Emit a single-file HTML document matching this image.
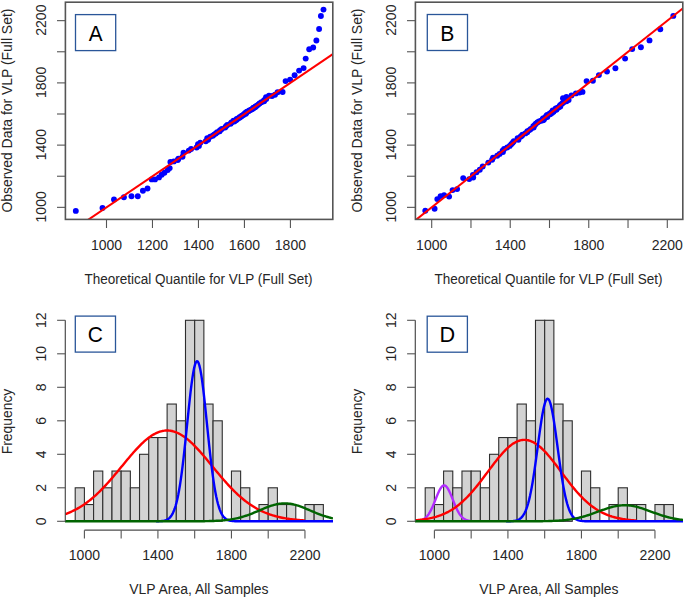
<!DOCTYPE html>
<html><head><meta charset="utf-8"><style>html,body{margin:0;padding:0;background:#fff;width:685px;height:598px;overflow:hidden}svg{display:block}text{font-family:"Liberation Sans",sans-serif}</style></head>
<body>
<svg width="685" height="598" viewBox="0 0 685 598" font-family="'Liberation Sans', sans-serif" fill="#262626">
<rect width="685" height="598" fill="#fff"/>
<clipPath id="clipA"><rect x="65.4" y="2.2" width="267.4" height="217.20000000000002"/></clipPath>
<g fill="#0000ff" clip-path="url(#clipA)">
<circle cx="75.8" cy="210.9" r="2.95"/>
<circle cx="102.5" cy="208.0" r="2.95"/>
<circle cx="114.0" cy="199.4" r="2.95"/>
<circle cx="123.9" cy="197.2" r="2.95"/>
<circle cx="131.5" cy="196.3" r="2.95"/>
<circle cx="137.8" cy="196.3" r="2.95"/>
<circle cx="142.9" cy="190.7" r="2.95"/>
<circle cx="147.5" cy="188.5" r="2.95"/>
<circle cx="151.7" cy="179.4" r="2.95"/>
<circle cx="155.0" cy="179.4" r="2.95"/>
<circle cx="159.0" cy="177.4" r="2.95"/>
<circle cx="161.7" cy="174.7" r="2.95"/>
<circle cx="164.4" cy="172.7" r="2.95"/>
<circle cx="167.7" cy="170.1" r="2.95"/>
<circle cx="169.7" cy="168.1" r="2.95"/>
<circle cx="170.4" cy="162.0" r="2.95"/>
<circle cx="173.8" cy="161.4" r="2.95"/>
<circle cx="177.8" cy="160.0" r="2.95"/>
<circle cx="178.4" cy="158.7" r="2.95"/>
<circle cx="182.5" cy="156.7" r="2.95"/>
<circle cx="183.5" cy="152.7" r="2.95"/>
<circle cx="188.8" cy="150.6" r="2.95"/>
<circle cx="191.1" cy="149.0" r="2.95"/>
<circle cx="196.6" cy="147.5" r="2.95"/>
<circle cx="198.9" cy="145.9" r="2.95"/>
<circle cx="198.0" cy="144.3" r="2.95"/>
<circle cx="200.3" cy="142.8" r="2.95"/>
<circle cx="205.8" cy="141.2" r="2.95"/>
<circle cx="208.1" cy="139.7" r="2.95"/>
<circle cx="207.2" cy="138.1" r="2.95"/>
<circle cx="210.2" cy="136.8" r="2.95"/>
<circle cx="212.8" cy="135.7" r="2.95"/>
<circle cx="214.1" cy="134.6" r="2.95"/>
<circle cx="215.8" cy="133.4" r="2.95"/>
<circle cx="217.2" cy="132.3" r="2.95"/>
<circle cx="219.7" cy="131.2" r="2.95"/>
<circle cx="220.1" cy="130.1" r="2.95"/>
<circle cx="221.8" cy="128.9" r="2.95"/>
<circle cx="225.1" cy="127.6" r="2.95"/>
<circle cx="226.0" cy="126.3" r="2.95"/>
<circle cx="227.3" cy="125.0" r="2.95"/>
<circle cx="230.6" cy="123.7" r="2.95"/>
<circle cx="231.4" cy="122.4" r="2.95"/>
<circle cx="234.3" cy="121.5" r="2.95"/>
<circle cx="233.5" cy="120.8" r="2.95"/>
<circle cx="235.9" cy="120.2" r="2.95"/>
<circle cx="236.9" cy="119.5" r="2.95"/>
<circle cx="236.8" cy="118.9" r="2.95"/>
<circle cx="238.4" cy="118.2" r="2.95"/>
<circle cx="239.9" cy="117.6" r="2.95"/>
<circle cx="239.9" cy="116.9" r="2.95"/>
<circle cx="241.6" cy="116.3" r="2.95"/>
<circle cx="241.9" cy="115.6" r="2.95"/>
<circle cx="243.4" cy="115.0" r="2.95"/>
<circle cx="244.1" cy="114.3" r="2.95"/>
<circle cx="245.8" cy="113.7" r="2.95"/>
<circle cx="245.2" cy="113.0" r="2.95"/>
<circle cx="246.6" cy="112.4" r="2.95"/>
<circle cx="246.9" cy="111.7" r="2.95"/>
<circle cx="248.7" cy="111.1" r="2.95"/>
<circle cx="249.3" cy="110.4" r="2.95"/>
<circle cx="251.0" cy="109.8" r="2.95"/>
<circle cx="252.1" cy="109.1" r="2.95"/>
<circle cx="253.2" cy="108.5" r="2.95"/>
<circle cx="253.4" cy="107.8" r="2.95"/>
<circle cx="255.1" cy="107.2" r="2.95"/>
<circle cx="255.6" cy="106.5" r="2.95"/>
<circle cx="256.8" cy="105.7" r="2.95"/>
<circle cx="258.2" cy="104.6" r="2.95"/>
<circle cx="259.5" cy="103.4" r="2.95"/>
<circle cx="261.4" cy="102.3" r="2.95"/>
<circle cx="264.1" cy="101.2" r="2.95"/>
<circle cx="264.1" cy="100.1" r="2.95"/>
<circle cx="266.2" cy="99.0" r="2.95"/>
<circle cx="266.0" cy="97.2" r="2.95"/>
<circle cx="269.0" cy="95.7" r="2.95"/>
<circle cx="272.0" cy="96.0" r="2.95"/>
<circle cx="275.0" cy="94.7" r="2.95"/>
<circle cx="277.6" cy="92.2" r="2.95"/>
<circle cx="282.6" cy="92.0" r="2.95"/>
<circle cx="285.6" cy="81.1" r="2.95"/>
<circle cx="290.1" cy="79.6" r="2.95"/>
<circle cx="294.6" cy="75.3" r="2.95"/>
<circle cx="299.1" cy="70.6" r="2.95"/>
<circle cx="303.6" cy="68.1" r="2.95"/>
<circle cx="305.7" cy="58.6" r="2.95"/>
<circle cx="309.2" cy="49.2" r="2.95"/>
<circle cx="313.2" cy="47.5" r="2.95"/>
<circle cx="316.4" cy="40.5" r="2.95"/>
<circle cx="319.1" cy="29.0" r="2.95"/>
<circle cx="320.9" cy="16.0" r="2.95"/>
<circle cx="323.5" cy="9.6" r="2.95"/>
</g>
<line x1="60.52" y1="238.47" x2="428.36" y2="-10.46" stroke="#ff0000" stroke-width="2.0" clip-path="url(#clipA)"/>
<rect x="65.4" y="2.2" width="267.4" height="217.20000000000002" fill="none" stroke="#555" stroke-width="1.6"/>
<line x1="57.0" y1="207.35" x2="65.4" y2="207.35" stroke="#555" stroke-width="1.1"/>
<line x1="57.0" y1="176.23" x2="65.4" y2="176.23" stroke="#555" stroke-width="1.1"/>
<line x1="57.0" y1="145.12" x2="65.4" y2="145.12" stroke="#555" stroke-width="1.1"/>
<line x1="57.0" y1="114.00" x2="65.4" y2="114.00" stroke="#555" stroke-width="1.1"/>
<line x1="57.0" y1="82.89" x2="65.4" y2="82.89" stroke="#555" stroke-width="1.1"/>
<line x1="57.0" y1="51.77" x2="65.4" y2="51.77" stroke="#555" stroke-width="1.1"/>
<line x1="57.0" y1="20.65" x2="65.4" y2="20.65" stroke="#555" stroke-width="1.1"/>
<text transform="translate(46.3,206.85) rotate(-90)" text-anchor="middle" font-size="14">1000</text>
<text transform="translate(46.3,144.62) rotate(-90)" text-anchor="middle" font-size="14">1400</text>
<text transform="translate(46.3,82.39) rotate(-90)" text-anchor="middle" font-size="14">1800</text>
<text transform="translate(46.3,20.15) rotate(-90)" text-anchor="middle" font-size="14">2200</text>
<line x1="106.50" y1="219.4" x2="106.50" y2="228.0" stroke="#555" stroke-width="1.1"/>
<line x1="152.48" y1="219.4" x2="152.48" y2="228.0" stroke="#555" stroke-width="1.1"/>
<line x1="198.46" y1="219.4" x2="198.46" y2="228.0" stroke="#555" stroke-width="1.1"/>
<line x1="244.44" y1="219.4" x2="244.44" y2="228.0" stroke="#555" stroke-width="1.1"/>
<line x1="290.42" y1="219.4" x2="290.42" y2="228.0" stroke="#555" stroke-width="1.1"/>
<text x="106.50" y="249.8" text-anchor="middle" font-size="14">1000</text>
<text x="152.48" y="249.8" text-anchor="middle" font-size="14">1200</text>
<text x="198.46" y="249.8" text-anchor="middle" font-size="14">1400</text>
<text x="244.44" y="249.8" text-anchor="middle" font-size="14">1600</text>
<text x="290.42" y="249.8" text-anchor="middle" font-size="14">1800</text>
<text x="84.5" y="284" font-size="14" textLength="228" lengthAdjust="spacingAndGlyphs">Theoretical Quantile for VLP (Full Set)</text>
<text transform="translate(12.3,212.6) rotate(-90)" font-size="14" textLength="204" lengthAdjust="spacingAndGlyphs">Observed Data for VLP (Full Set)</text>
<clipPath id="clipB"><rect x="415.4" y="2.2" width="267.4" height="217.20000000000002"/></clipPath>
<g fill="#0000ff" clip-path="url(#clipB)">
<circle cx="425.3" cy="210.7" r="2.95"/>
<circle cx="434.6" cy="208.7" r="2.95"/>
<circle cx="437.3" cy="199.1" r="2.95"/>
<circle cx="440.6" cy="196.1" r="2.95"/>
<circle cx="444.1" cy="195.1" r="2.95"/>
<circle cx="449.1" cy="196.6" r="2.95"/>
<circle cx="452.6" cy="190.1" r="2.95"/>
<circle cx="457.1" cy="189.1" r="2.95"/>
<circle cx="463.2" cy="178.1" r="2.95"/>
<circle cx="469.2" cy="179.1" r="2.95"/>
<circle cx="473.2" cy="177.6" r="2.95"/>
<circle cx="472.9" cy="174.9" r="2.95"/>
<circle cx="476.5" cy="172.3" r="2.95"/>
<circle cx="479.8" cy="169.8" r="2.95"/>
<circle cx="482.7" cy="166.5" r="2.95"/>
<circle cx="488.3" cy="162.6" r="2.95"/>
<circle cx="492.1" cy="159.7" r="2.95"/>
<circle cx="493.0" cy="157.8" r="2.95"/>
<circle cx="497.2" cy="155.8" r="2.95"/>
<circle cx="499.6" cy="153.9" r="2.95"/>
<circle cx="502.9" cy="152.1" r="2.95"/>
<circle cx="502.6" cy="150.6" r="2.95"/>
<circle cx="504.1" cy="149.0" r="2.95"/>
<circle cx="507.2" cy="147.5" r="2.95"/>
<circle cx="509.7" cy="145.9" r="2.95"/>
<circle cx="511.2" cy="144.3" r="2.95"/>
<circle cx="512.7" cy="142.8" r="2.95"/>
<circle cx="513.8" cy="141.2" r="2.95"/>
<circle cx="518.4" cy="139.7" r="2.95"/>
<circle cx="517.6" cy="138.1" r="2.95"/>
<circle cx="520.5" cy="136.8" r="2.95"/>
<circle cx="521.9" cy="135.7" r="2.95"/>
<circle cx="522.4" cy="134.6" r="2.95"/>
<circle cx="525.3" cy="133.4" r="2.95"/>
<circle cx="527.2" cy="132.3" r="2.95"/>
<circle cx="527.4" cy="131.2" r="2.95"/>
<circle cx="529.4" cy="130.1" r="2.95"/>
<circle cx="530.8" cy="128.9" r="2.95"/>
<circle cx="533.6" cy="127.6" r="2.95"/>
<circle cx="533.3" cy="126.3" r="2.95"/>
<circle cx="534.8" cy="125.0" r="2.95"/>
<circle cx="535.8" cy="123.7" r="2.95"/>
<circle cx="537.3" cy="122.4" r="2.95"/>
<circle cx="538.9" cy="121.5" r="2.95"/>
<circle cx="541.0" cy="120.8" r="2.95"/>
<circle cx="543.1" cy="120.2" r="2.95"/>
<circle cx="544.0" cy="119.5" r="2.95"/>
<circle cx="542.7" cy="118.9" r="2.95"/>
<circle cx="543.4" cy="118.2" r="2.95"/>
<circle cx="545.6" cy="117.6" r="2.95"/>
<circle cx="547.3" cy="116.9" r="2.95"/>
<circle cx="546.1" cy="116.3" r="2.95"/>
<circle cx="547.0" cy="115.6" r="2.95"/>
<circle cx="547.1" cy="115.0" r="2.95"/>
<circle cx="550.2" cy="114.3" r="2.95"/>
<circle cx="549.5" cy="113.7" r="2.95"/>
<circle cx="551.9" cy="113.0" r="2.95"/>
<circle cx="551.2" cy="112.4" r="2.95"/>
<circle cx="553.5" cy="111.7" r="2.95"/>
<circle cx="553.7" cy="111.1" r="2.95"/>
<circle cx="552.7" cy="110.4" r="2.95"/>
<circle cx="556.3" cy="109.8" r="2.95"/>
<circle cx="556.6" cy="109.1" r="2.95"/>
<circle cx="555.7" cy="108.5" r="2.95"/>
<circle cx="557.7" cy="107.8" r="2.95"/>
<circle cx="558.8" cy="107.2" r="2.95"/>
<circle cx="560.3" cy="106.5" r="2.95"/>
<circle cx="559.8" cy="105.7" r="2.95"/>
<circle cx="560.7" cy="104.6" r="2.95"/>
<circle cx="562.2" cy="103.4" r="2.95"/>
<circle cx="563.7" cy="102.3" r="2.95"/>
<circle cx="566.5" cy="101.2" r="2.95"/>
<circle cx="568.6" cy="100.1" r="2.95"/>
<circle cx="567.8" cy="99.0" r="2.95"/>
<circle cx="563.0" cy="98.3" r="2.95"/>
<circle cx="566.4" cy="97.0" r="2.95"/>
<circle cx="571.5" cy="95.5" r="2.95"/>
<circle cx="575.9" cy="93.4" r="2.95"/>
<circle cx="579.6" cy="92.6" r="2.95"/>
<circle cx="582.5" cy="91.9" r="2.95"/>
<circle cx="586.6" cy="81.1" r="2.95"/>
<circle cx="592.9" cy="80.8" r="2.95"/>
<circle cx="598.9" cy="75.1" r="2.95"/>
<circle cx="607.0" cy="71.6" r="2.95"/>
<circle cx="615.4" cy="68.2" r="2.95"/>
<circle cx="625.1" cy="58.6" r="2.95"/>
<circle cx="632.2" cy="49.1" r="2.95"/>
<circle cx="640.9" cy="47.2" r="2.95"/>
<circle cx="649.5" cy="40.4" r="2.95"/>
<circle cx="660.3" cy="29.2" r="2.95"/>
<circle cx="673.3" cy="15.9" r="2.95"/>
</g>
<line x1="392.43" y1="238.47" x2="706.56" y2="-10.46" stroke="#ff0000" stroke-width="2.0" clip-path="url(#clipB)"/>
<rect x="415.4" y="2.2" width="267.4" height="217.20000000000002" fill="none" stroke="#555" stroke-width="1.6"/>
<line x1="407.0" y1="207.35" x2="415.4" y2="207.35" stroke="#555" stroke-width="1.1"/>
<line x1="407.0" y1="176.23" x2="415.4" y2="176.23" stroke="#555" stroke-width="1.1"/>
<line x1="407.0" y1="145.12" x2="415.4" y2="145.12" stroke="#555" stroke-width="1.1"/>
<line x1="407.0" y1="114.00" x2="415.4" y2="114.00" stroke="#555" stroke-width="1.1"/>
<line x1="407.0" y1="82.89" x2="415.4" y2="82.89" stroke="#555" stroke-width="1.1"/>
<line x1="407.0" y1="51.77" x2="415.4" y2="51.77" stroke="#555" stroke-width="1.1"/>
<line x1="407.0" y1="20.65" x2="415.4" y2="20.65" stroke="#555" stroke-width="1.1"/>
<text transform="translate(396.3,206.85) rotate(-90)" text-anchor="middle" font-size="14">1000</text>
<text transform="translate(396.3,144.62) rotate(-90)" text-anchor="middle" font-size="14">1400</text>
<text transform="translate(396.3,82.39) rotate(-90)" text-anchor="middle" font-size="14">1800</text>
<text transform="translate(396.3,20.15) rotate(-90)" text-anchor="middle" font-size="14">2200</text>
<line x1="431.70" y1="219.4" x2="431.70" y2="228.0" stroke="#555" stroke-width="1.1"/>
<line x1="470.97" y1="219.4" x2="470.97" y2="228.0" stroke="#555" stroke-width="1.1"/>
<line x1="510.23" y1="219.4" x2="510.23" y2="228.0" stroke="#555" stroke-width="1.1"/>
<line x1="549.50" y1="219.4" x2="549.50" y2="228.0" stroke="#555" stroke-width="1.1"/>
<line x1="588.76" y1="219.4" x2="588.76" y2="228.0" stroke="#555" stroke-width="1.1"/>
<line x1="628.03" y1="219.4" x2="628.03" y2="228.0" stroke="#555" stroke-width="1.1"/>
<line x1="667.30" y1="219.4" x2="667.30" y2="228.0" stroke="#555" stroke-width="1.1"/>
<text x="431.70" y="249.8" text-anchor="middle" font-size="14">1000</text>
<text x="510.23" y="249.8" text-anchor="middle" font-size="14">1400</text>
<text x="588.76" y="249.8" text-anchor="middle" font-size="14">1800</text>
<text x="667.30" y="249.8" text-anchor="middle" font-size="14">2200</text>
<text x="434.5" y="284" font-size="14" textLength="228" lengthAdjust="spacingAndGlyphs">Theoretical Quantile for VLP (Full Set)</text>
<text transform="translate(362.3,212.6) rotate(-90)" font-size="14" textLength="204" lengthAdjust="spacingAndGlyphs">Observed Data for VLP (Full Set)</text>
<clipPath id="hclip0"><rect x="65.0" y="300" width="268.0" height="229.29999999999995"/></clipPath>
<g fill="#d3d3d3" stroke="#2e2e2e" stroke-width="1.1">
<rect x="75.21" y="487.80" width="9.19" height="33.50"/>
<rect x="84.40" y="504.55" width="9.19" height="16.75"/>
<rect x="93.59" y="471.05" width="9.19" height="50.25"/>
<rect x="102.78" y="487.80" width="9.19" height="33.50"/>
<rect x="111.97" y="471.05" width="9.19" height="50.25"/>
<rect x="121.16" y="471.05" width="9.19" height="50.25"/>
<rect x="130.35" y="487.80" width="9.19" height="33.50"/>
<rect x="139.54" y="454.30" width="9.19" height="67.00"/>
<rect x="148.73" y="437.55" width="9.19" height="83.75"/>
<rect x="157.92" y="437.55" width="9.19" height="83.75"/>
<rect x="167.11" y="404.05" width="9.19" height="117.25"/>
<rect x="176.30" y="420.80" width="9.19" height="100.50"/>
<rect x="185.49" y="320.30" width="9.19" height="201.00"/>
<rect x="194.68" y="320.30" width="9.19" height="201.00"/>
<rect x="203.87" y="404.05" width="9.19" height="117.25"/>
<rect x="213.06" y="420.80" width="9.19" height="100.50"/>
<rect x="231.44" y="471.05" width="9.19" height="50.25"/>
<rect x="240.63" y="487.80" width="9.19" height="33.50"/>
<rect x="259.01" y="504.55" width="9.19" height="16.75"/>
<rect x="268.20" y="487.80" width="9.19" height="33.50"/>
<rect x="277.39" y="504.55" width="9.19" height="16.75"/>
<rect x="286.58" y="504.55" width="9.19" height="16.75"/>
<rect x="304.96" y="504.55" width="9.19" height="16.75"/>
<rect x="314.15" y="504.55" width="9.19" height="16.75"/>
</g>
<polyline points="65.00,514.21 66.20,513.78 67.40,513.32 68.60,512.84 69.80,512.34 71.00,511.82 72.20,511.27 73.40,510.70 74.60,510.11 75.80,509.49 77.00,508.84 78.20,508.17 79.40,507.47 80.60,506.74 81.80,505.99 83.00,505.21 84.20,504.40 85.40,503.57 86.60,502.70 87.80,501.81 89.00,500.89 90.20,499.94 91.40,498.96 92.60,497.95 93.80,496.92 95.00,495.85 96.19,494.76 97.39,493.64 98.59,492.50 99.79,491.33 100.99,490.13 102.19,488.91 103.39,487.66 104.59,486.40 105.79,485.10 106.99,483.79 108.19,482.46 109.39,481.10 110.59,479.73 111.79,478.35 112.99,476.95 114.19,475.53 115.39,474.10 116.59,472.67 117.79,471.22 118.99,469.77 120.19,468.31 121.39,466.85 122.59,465.39 123.79,463.93 124.99,462.47 126.19,461.02 127.39,459.58 128.59,458.15 129.79,456.72 130.99,455.32 132.19,453.93 133.39,452.56 134.59,451.21 135.79,449.88 136.99,448.58 138.19,447.31 139.39,446.07 140.59,444.86 141.79,443.69 142.99,442.56 144.19,441.46 145.39,440.41 146.59,439.40 147.79,438.44 148.99,437.52 150.19,436.66 151.39,435.84 152.59,435.08 153.79,434.37 154.99,433.72 156.18,433.13 157.38,432.59 158.58,432.11 159.78,431.70 160.98,431.34 162.18,431.05 163.38,430.82 164.58,430.66 165.78,430.55 166.98,430.52 168.18,430.54 169.38,430.63 170.58,430.78 171.78,431.00 172.98,431.28 174.18,431.62 175.38,432.02 176.58,432.49 177.78,433.01 178.98,433.59 180.18,434.23 181.38,434.93 182.58,435.68 183.78,436.48 184.98,437.34 186.18,438.24 187.38,439.19 188.58,440.19 189.78,441.24 190.98,442.32 192.18,443.45 193.38,444.61 194.58,445.81 195.78,447.05 196.98,448.31 198.18,449.60 199.38,450.92 200.58,452.27 201.78,453.64 202.98,455.02 204.18,456.42 205.38,457.84 206.58,459.27 207.78,460.72 208.98,462.17 210.18,463.62 211.38,465.08 212.58,466.54 213.78,468.00 214.97,469.46 216.17,470.91 217.37,472.36 218.57,473.80 219.77,475.23 220.97,476.65 222.17,478.05 223.37,479.44 224.57,480.82 225.77,482.17 226.97,483.51 228.17,484.83 229.37,486.12 230.57,487.40 231.77,488.65 232.97,489.88 234.17,491.08 235.37,492.25 236.57,493.40 237.77,494.53 238.97,495.63 240.17,496.69 241.37,497.74 242.57,498.75 243.77,499.73 244.97,500.69 246.17,501.62 247.37,502.52 248.57,503.39 249.77,504.23 250.97,505.04 252.17,505.83 253.37,506.59 254.57,507.32 255.77,508.02 256.97,508.70 258.17,509.35 259.37,509.98 260.57,510.58 261.77,511.15 262.97,511.71 264.17,512.23 265.37,512.74 266.57,513.22 267.77,513.68 268.97,514.12 270.17,514.54 271.37,514.94 272.57,515.32 273.77,515.68 274.97,516.02 276.16,516.35 277.36,516.66 278.56,516.95 279.76,517.23 280.96,517.49 282.16,517.74 283.36,517.97 284.56,518.19 285.76,518.40 286.96,518.59 288.16,518.78 289.36,518.95 290.56,519.12 291.76,519.27 292.96,519.41 294.16,519.55 295.36,519.67 296.56,519.79 297.76,519.90 298.96,520.01 300.16,520.10 301.36,520.19 302.56,520.28 303.76,520.36 304.96,520.43" fill="none" stroke="#ff0000" stroke-width="2.4" stroke-linejoin="round" clip-path="url(#hclip0)"/>
<polyline points="156.08,521.27 156.97,521.25 157.85,521.23 158.74,521.21 159.62,521.17 160.50,521.12 161.39,521.05 162.27,520.96 163.16,520.83 164.04,520.67 164.93,520.45 165.81,520.18 166.70,519.82 167.58,519.36 168.47,518.78 169.35,518.06 170.24,517.16 171.12,516.05 172.00,514.70 172.89,513.07 173.77,511.11 174.66,508.79 175.54,506.06 176.43,502.88 177.31,499.22 178.20,495.04 179.08,490.31 179.97,485.02 180.85,479.17 181.74,472.75 182.62,465.81 183.50,458.37 184.39,450.50 185.27,442.28 186.16,433.80 187.04,425.17 187.93,416.53 188.81,408.02 189.70,399.78 190.58,391.98 191.47,384.76 192.35,378.29 193.23,372.69 194.12,368.09 195.00,364.60 195.89,362.30 196.77,361.24 197.66,361.45 198.54,362.92 199.43,365.62 200.31,369.49 201.20,374.43 202.08,380.33 202.97,387.07 203.85,394.50 204.73,402.46 205.62,410.80 206.50,419.38 207.39,428.03 208.27,436.62 209.16,445.03 210.04,453.14 210.93,460.88 211.81,468.16 212.70,474.93 213.58,481.16 214.46,486.83 215.35,491.93 216.23,496.48 217.12,500.48 218.00,503.98 218.89,507.01 219.77,509.60 220.66,511.79 221.54,513.64 222.43,515.17 223.31,516.44 224.20,517.48 225.08,518.31 225.96,518.99 226.85,519.52 227.73,519.95 228.62,520.28 229.50,520.53 230.39,520.73 231.27,520.88 232.16,520.99 233.04,521.08 233.93,521.14 234.81,521.18 235.70,521.22 236.58,521.24 237.46,521.26 238.35,521.27 239.23,521.28 240.12,521.29 241.00,521.29 241.89,521.29 242.77,521.30 243.66,521.30 244.54,521.30 245.43,521.30 246.31,521.30 247.19,521.30 248.08,521.30 248.96,521.30 249.85,521.30 250.73,521.30 251.62,521.30 252.50,521.30 253.39,521.30 254.27,521.30 255.16,521.30 256.04,521.30 256.93,521.30 257.81,521.30 258.69,521.30 259.58,521.30 260.46,521.30 261.35,521.30 262.23,521.30 263.12,521.30 264.00,521.30 264.89,521.30 265.77,521.30 266.66,521.30 267.54,521.30 268.42,521.30 269.31,521.30 270.19,521.30 271.08,521.30 271.96,521.30 272.85,521.30 273.73,521.30 274.62,521.30 275.50,521.30 276.39,521.30 277.27,521.30 278.16,521.30 279.04,521.30 279.92,521.30 280.81,521.30 281.69,521.30 282.58,521.30 283.46,521.30 284.35,521.30 285.23,521.30 286.12,521.30 287.00,521.30 287.89,521.30 288.77,521.30 289.66,521.30 290.54,521.30 291.42,521.30 292.31,521.30 293.19,521.30 294.08,521.30 294.96,521.30 295.85,521.30 296.73,521.30 297.62,521.30 298.50,521.30 299.39,521.30 300.27,521.30 301.15,521.30 302.04,521.30 302.92,521.30 303.81,521.30 304.69,521.30 305.58,521.30 306.46,521.30 307.35,521.30 308.23,521.30 309.12,521.30 310.00,521.30 310.89,521.30 311.77,521.30 312.65,521.30 313.54,521.30 314.42,521.30 315.31,521.30 316.19,521.30 317.08,521.30 317.96,521.30 318.85,521.30 319.73,521.30 320.62,521.30 321.50,521.30 322.38,521.30 323.27,521.30 324.15,521.30 325.04,521.30 325.92,521.30 326.81,521.30 327.69,521.30 328.58,521.30 329.46,521.30 330.35,521.30 331.23,521.30 332.12,521.30 333.00,521.30" fill="none" stroke="#0000ff" stroke-width="2.4" stroke-linejoin="round" clip-path="url(#hclip0)"/>
<polyline points="65.00,521.30 66.34,521.30 67.68,521.30 69.02,521.30 70.36,521.30 71.70,521.30 73.04,521.30 74.38,521.30 75.72,521.30 77.06,521.30 78.40,521.30 79.74,521.30 81.08,521.30 82.42,521.30 83.76,521.30 85.10,521.30 86.44,521.30 87.78,521.30 89.12,521.30 90.46,521.30 91.80,521.30 93.14,521.30 94.48,521.30 95.82,521.30 97.16,521.30 98.50,521.30 99.84,521.30 101.18,521.30 102.52,521.30 103.86,521.30 105.20,521.30 106.54,521.30 107.88,521.30 109.22,521.30 110.56,521.30 111.90,521.30 113.24,521.30 114.58,521.30 115.92,521.30 117.26,521.30 118.60,521.30 119.94,521.30 121.28,521.30 122.62,521.30 123.96,521.30 125.30,521.30 126.64,521.30 127.98,521.30 129.32,521.30 130.66,521.30 132.00,521.30 133.34,521.30 134.68,521.30 136.02,521.30 137.36,521.30 138.70,521.30 140.04,521.30 141.38,521.30 142.72,521.30 144.06,521.30 145.40,521.30 146.74,521.30 148.08,521.30 149.42,521.30 150.76,521.30 152.10,521.30 153.44,521.30 154.78,521.30 156.12,521.30 157.46,521.30 158.80,521.30 160.14,521.30 161.48,521.30 162.82,521.30 164.16,521.30 165.50,521.30 166.84,521.30 168.18,521.30 169.52,521.30 170.86,521.30 172.20,521.30 173.54,521.30 174.88,521.30 176.22,521.30 177.56,521.30 178.90,521.30 180.24,521.30 181.58,521.30 182.92,521.29 184.26,521.29 185.60,521.29 186.94,521.29 188.28,521.29 189.62,521.28 190.96,521.28 192.30,521.28 193.64,521.27 194.98,521.27 196.32,521.26 197.66,521.25 199.00,521.24 200.34,521.23 201.68,521.22 203.02,521.20 204.36,521.18 205.70,521.16 207.04,521.14 208.38,521.11 209.72,521.07 211.06,521.04 212.40,520.99 213.74,520.94 215.08,520.89 216.42,520.82 217.76,520.75 219.10,520.67 220.44,520.58 221.78,520.48 223.12,520.36 224.46,520.24 225.80,520.10 227.14,519.94 228.48,519.77 229.82,519.58 231.16,519.38 232.50,519.15 233.84,518.91 235.18,518.64 236.52,518.36 237.86,518.05 239.20,517.72 240.54,517.37 241.88,517.00 243.22,516.61 244.56,516.19 245.90,515.75 247.24,515.29 248.58,514.81 249.92,514.32 251.26,513.80 252.60,513.27 253.94,512.73 255.28,512.17 256.62,511.61 257.96,511.04 259.30,510.46 260.64,509.89 261.98,509.32 263.32,508.75 264.66,508.20 266.00,507.66 267.34,507.14 268.68,506.63 270.02,506.16 271.36,505.71 272.70,505.29 274.04,504.90 275.38,504.56 276.72,504.25 278.06,503.99 279.40,503.77 280.74,503.60 282.08,503.48 283.42,503.40 284.76,503.38 286.10,503.40 287.44,503.48 288.78,503.60 290.12,503.78 291.46,504.00 292.80,504.26 294.14,504.57 295.48,504.91 296.82,505.30 298.16,505.72 299.50,506.17 300.84,506.65 302.18,507.15 303.52,507.67 304.86,508.21 306.20,508.77 307.54,509.33 308.88,509.90 310.22,510.48 311.56,511.05 312.90,511.62 314.24,512.19 315.58,512.74 316.92,513.28 318.26,513.81 319.60,514.33 320.94,514.83 322.28,515.30 323.62,515.76 324.96,516.20 326.30,516.62 327.64,517.01 328.98,517.38 330.32,517.73 331.66,518.06 333.00,518.37" fill="none" stroke="#006400" stroke-width="2.4" stroke-linejoin="round" clip-path="url(#hclip0)"/>
<line x1="65.3" y1="521.3" x2="65.3" y2="320.29999999999995" stroke="#4d4d4d" stroke-width="1.2"/>
<line x1="57.099999999999994" y1="521.30" x2="65.3" y2="521.30" stroke="#555" stroke-width="1.1"/>
<text transform="translate(46.3,521.30) rotate(-90)" text-anchor="middle" font-size="14">0</text>
<line x1="57.099999999999994" y1="487.80" x2="65.3" y2="487.80" stroke="#555" stroke-width="1.1"/>
<text transform="translate(46.3,487.80) rotate(-90)" text-anchor="middle" font-size="14">2</text>
<line x1="57.099999999999994" y1="454.30" x2="65.3" y2="454.30" stroke="#555" stroke-width="1.1"/>
<text transform="translate(46.3,454.30) rotate(-90)" text-anchor="middle" font-size="14">4</text>
<line x1="57.099999999999994" y1="420.80" x2="65.3" y2="420.80" stroke="#555" stroke-width="1.1"/>
<text transform="translate(46.3,420.80) rotate(-90)" text-anchor="middle" font-size="14">6</text>
<line x1="57.099999999999994" y1="387.30" x2="65.3" y2="387.30" stroke="#555" stroke-width="1.1"/>
<text transform="translate(46.3,387.30) rotate(-90)" text-anchor="middle" font-size="14">8</text>
<line x1="57.099999999999994" y1="353.80" x2="65.3" y2="353.80" stroke="#555" stroke-width="1.1"/>
<text transform="translate(46.3,353.80) rotate(-90)" text-anchor="middle" font-size="14">10</text>
<line x1="57.099999999999994" y1="320.30" x2="65.3" y2="320.30" stroke="#555" stroke-width="1.1"/>
<text transform="translate(46.3,320.30) rotate(-90)" text-anchor="middle" font-size="14">12</text>
<line x1="84.40" y1="530.2" x2="304.96" y2="530.2" stroke="#4d4d4d" stroke-width="1.2"/>
<line x1="84.40" y1="530.2" x2="84.40" y2="538.4" stroke="#555" stroke-width="1.1"/>
<line x1="121.16" y1="530.2" x2="121.16" y2="538.4" stroke="#555" stroke-width="1.1"/>
<line x1="157.92" y1="530.2" x2="157.92" y2="538.4" stroke="#555" stroke-width="1.1"/>
<line x1="194.68" y1="530.2" x2="194.68" y2="538.4" stroke="#555" stroke-width="1.1"/>
<line x1="231.44" y1="530.2" x2="231.44" y2="538.4" stroke="#555" stroke-width="1.1"/>
<line x1="268.20" y1="530.2" x2="268.20" y2="538.4" stroke="#555" stroke-width="1.1"/>
<line x1="304.96" y1="530.2" x2="304.96" y2="538.4" stroke="#555" stroke-width="1.1"/>
<text x="84.40" y="560.4" text-anchor="middle" font-size="14">1000</text>
<text x="157.92" y="560.4" text-anchor="middle" font-size="14">1400</text>
<text x="231.44" y="560.4" text-anchor="middle" font-size="14">1800</text>
<text x="304.96" y="560.4" text-anchor="middle" font-size="14">2200</text>
<text x="129.3" y="594.3" font-size="14" textLength="139.3" lengthAdjust="spacingAndGlyphs">VLP Area, All Samples</text>
<text transform="translate(12.2,454.3) rotate(-90)" font-size="14" textLength="65.6" lengthAdjust="spacingAndGlyphs">Frequency</text>
<clipPath id="hclip350"><rect x="415.0" y="300" width="268.0" height="229.29999999999995"/></clipPath>
<g fill="#d3d3d3" stroke="#2e2e2e" stroke-width="1.1">
<rect x="425.21" y="487.80" width="9.19" height="33.50"/>
<rect x="434.40" y="504.55" width="9.19" height="16.75"/>
<rect x="443.59" y="471.05" width="9.19" height="50.25"/>
<rect x="452.78" y="487.80" width="9.19" height="33.50"/>
<rect x="461.97" y="471.05" width="9.19" height="50.25"/>
<rect x="471.16" y="471.05" width="9.19" height="50.25"/>
<rect x="480.35" y="487.80" width="9.19" height="33.50"/>
<rect x="489.54" y="454.30" width="9.19" height="67.00"/>
<rect x="498.73" y="437.55" width="9.19" height="83.75"/>
<rect x="507.92" y="437.55" width="9.19" height="83.75"/>
<rect x="517.11" y="404.05" width="9.19" height="117.25"/>
<rect x="526.30" y="420.80" width="9.19" height="100.50"/>
<rect x="535.49" y="320.30" width="9.19" height="201.00"/>
<rect x="544.68" y="320.30" width="9.19" height="201.00"/>
<rect x="553.87" y="404.05" width="9.19" height="117.25"/>
<rect x="563.06" y="420.80" width="9.19" height="100.50"/>
<rect x="581.44" y="471.05" width="9.19" height="50.25"/>
<rect x="590.63" y="487.80" width="9.19" height="33.50"/>
<rect x="609.01" y="504.55" width="9.19" height="16.75"/>
<rect x="618.20" y="487.80" width="9.19" height="33.50"/>
<rect x="627.39" y="504.55" width="9.19" height="16.75"/>
<rect x="636.58" y="504.55" width="9.19" height="16.75"/>
<rect x="654.96" y="504.55" width="9.19" height="16.75"/>
<rect x="664.15" y="504.55" width="9.19" height="16.75"/>
</g>
<polyline points="418.23,520.90 418.48,520.86 418.74,520.82 419.00,520.78 419.26,520.73 419.52,520.68 419.78,520.63 420.04,520.57 420.30,520.51 420.56,520.44 420.82,520.36 421.08,520.29 421.34,520.20 421.59,520.11 421.85,520.01 422.11,519.91 422.37,519.80 422.63,519.69 422.89,519.56 423.15,519.43 423.41,519.29 423.67,519.14 423.93,518.98 424.19,518.81 424.45,518.64 424.70,518.45 424.96,518.25 425.22,518.04 425.48,517.82 425.74,517.59 426.00,517.35 426.26,517.09 426.52,516.83 426.78,516.55 427.04,516.25 427.30,515.95 427.56,515.63 427.81,515.29 428.07,514.94 428.33,514.58 428.59,514.21 428.85,513.82 429.11,513.41 429.37,512.99 429.63,512.56 429.89,512.11 430.15,511.65 430.41,511.17 430.67,510.68 430.92,510.18 431.18,509.66 431.44,509.13 431.70,508.59 431.96,508.03 432.22,507.47 432.48,506.89 432.74,506.30 433.00,505.70 433.26,505.09 433.52,504.48 433.78,503.85 434.03,503.22 434.29,502.58 434.55,501.94 434.81,501.29 435.07,500.65 435.33,499.99 435.59,499.34 435.85,498.69 436.11,498.04 436.37,497.39 436.63,496.75 436.88,496.11 437.14,495.48 437.40,494.86 437.66,494.24 437.92,493.64 438.18,493.05 438.44,492.47 438.70,491.91 438.96,491.36 439.22,490.83 439.48,490.32 439.74,489.83 439.99,489.36 440.25,488.91 440.51,488.48 440.77,488.08 441.03,487.70 441.29,487.35 441.55,487.03 441.81,486.74 442.07,486.47 442.33,486.24 442.59,486.03 442.85,485.86 443.10,485.71 443.36,485.60 443.62,485.52 443.88,485.47 444.14,485.45 444.40,485.47 444.66,485.52 444.92,485.60 445.18,485.71 445.44,485.86 445.70,486.03 445.96,486.24 446.21,486.47 446.47,486.74 446.73,487.03 446.99,487.35 447.25,487.70 447.51,488.08 447.77,488.48 448.03,488.91 448.29,489.36 448.55,489.83 448.81,490.32 449.07,490.83 449.32,491.36 449.58,491.91 449.84,492.47 450.10,493.05 450.36,493.64 450.62,494.24 450.88,494.86 451.14,495.48 451.40,496.11 451.66,496.75 451.92,497.39 452.18,498.04 452.43,498.69 452.69,499.34 452.95,499.99 453.21,500.65 453.47,501.29 453.73,501.94 453.99,502.58 454.25,503.22 454.51,503.85 454.77,504.48 455.03,505.09 455.29,505.70 455.54,506.30 455.80,506.89 456.06,507.47 456.32,508.03 456.58,508.59 456.84,509.13 457.10,509.66 457.36,510.18 457.62,510.68 457.88,511.17 458.14,511.65 458.40,512.11 458.65,512.56 458.91,512.99 459.17,513.41 459.43,513.82 459.69,514.21 459.95,514.58 460.21,514.94 460.47,515.29 460.73,515.63 460.99,515.95 461.25,516.25 461.50,516.55 461.76,516.83 462.02,517.09 462.28,517.35 462.54,517.59 462.80,517.82 463.06,518.04 463.32,518.25 463.58,518.45 463.84,518.64 464.10,518.81 464.36,518.98 464.61,519.14 464.87,519.29 465.13,519.43 465.39,519.56 465.65,519.69 465.91,519.80 466.17,519.91 466.43,520.01 466.69,520.11 466.95,520.20 467.21,520.29 467.47,520.36 467.72,520.44 467.98,520.51 468.24,520.57 468.50,520.63 468.76,520.68 469.02,520.73 469.28,520.78 469.54,520.82 469.80,520.86 470.06,520.90" fill="none" stroke="#b22cff" stroke-width="2.4" stroke-linejoin="round" clip-path="url(#hclip350)"/>
<polyline points="415.00,520.33 416.11,520.24 417.22,520.15 418.32,520.04 419.43,519.93 420.54,519.80 421.65,519.67 422.76,519.53 423.86,519.38 424.97,519.21 426.08,519.03 427.19,518.84 428.29,518.64 429.40,518.43 430.51,518.19 431.62,517.95 432.73,517.68 433.83,517.40 434.94,517.10 436.05,516.79 437.16,516.45 438.27,516.09 439.37,515.71 440.48,515.31 441.59,514.89 442.70,514.44 443.81,513.97 444.91,513.47 446.02,512.95 447.13,512.40 448.24,511.82 449.34,511.21 450.45,510.57 451.56,509.91 452.67,509.21 453.78,508.48 454.88,507.73 455.99,506.94 457.10,506.11 458.21,505.26 459.32,504.37 460.42,503.45 461.53,502.50 462.64,501.51 463.75,500.49 464.86,499.44 465.96,498.35 467.07,497.24 468.18,496.09 469.29,494.91 470.39,493.70 471.50,492.46 472.61,491.20 473.72,489.90 474.83,488.58 475.93,487.24 477.04,485.88 478.15,484.49 479.26,483.08 480.37,481.66 481.47,480.21 482.58,478.76 483.69,477.29 484.80,475.82 485.91,474.34 487.01,472.85 488.12,471.36 489.23,469.88 490.34,468.39 491.45,466.92 492.55,465.45 493.66,463.99 494.77,462.56 495.88,461.14 496.98,459.74 498.09,458.36 499.20,457.02 500.31,455.70 501.42,454.42 502.52,453.17 503.63,451.97 504.74,450.81 505.85,449.69 506.96,448.62 508.06,447.60 509.17,446.64 510.28,445.73 511.39,444.88 512.50,444.10 513.60,443.37 514.71,442.71 515.82,442.11 516.93,441.59 518.03,441.13 519.14,440.74 520.25,440.43 521.36,440.18 522.47,440.01 523.57,439.92 524.68,439.90 525.79,439.95 526.90,440.07 528.01,440.27 529.11,440.54 530.22,440.89 531.33,441.30 532.44,441.79 533.55,442.34 534.65,442.96 535.76,443.65 536.87,444.40 537.98,445.21 539.08,446.09 540.19,447.02 541.30,448.00 542.41,449.04 543.52,450.13 544.62,451.26 545.73,452.44 546.84,453.66 547.95,454.92 549.06,456.22 550.16,457.55 551.27,458.91 552.38,460.29 553.49,461.70 554.60,463.13 555.70,464.57 556.81,466.03 557.92,467.50 559.03,468.98 560.13,470.47 561.24,471.95 562.35,473.44 563.46,474.93 564.57,476.41 565.67,477.88 566.78,479.34 567.89,480.79 569.00,482.22 570.11,483.64 571.21,485.04 572.32,486.42 573.43,487.78 574.54,489.11 575.65,490.42 576.75,491.70 577.86,492.96 578.97,494.18 580.08,495.38 581.18,496.55 582.29,497.68 583.40,498.79 584.51,499.86 585.62,500.90 586.72,501.90 587.83,502.88 588.94,503.82 590.05,504.73 591.16,505.60 592.26,506.44 593.37,507.25 594.48,508.03 595.59,508.78 596.70,509.49 597.80,510.18 598.91,510.83 600.02,511.45 601.13,512.05 602.24,512.62 603.34,513.16 604.45,513.67 605.56,514.16 606.67,514.62 607.77,515.06 608.88,515.47 609.99,515.87 611.10,516.24 612.21,516.59 613.31,516.91 614.42,517.22 615.53,517.52 616.64,517.79 617.75,518.05 618.85,518.29 619.96,518.51 621.07,518.72 622.18,518.92 623.29,519.11 624.39,519.28 625.50,519.44 626.61,519.59 627.72,519.72 628.82,519.85 629.93,519.97 631.04,520.08 632.15,520.19 633.26,520.28 634.36,520.37 635.47,520.45 636.58,520.52" fill="none" stroke="#ff0000" stroke-width="2.4" stroke-linejoin="round" clip-path="url(#hclip350)"/>
<polyline points="506.08,521.28 506.97,521.27 507.85,521.26 508.74,521.24 509.62,521.22 510.50,521.19 511.39,521.14 512.27,521.08 513.16,521.00 514.04,520.90 514.93,520.76 515.81,520.58 516.70,520.34 517.58,520.04 518.47,519.66 519.35,519.18 520.24,518.57 521.12,517.83 522.00,516.91 522.89,515.80 523.77,514.46 524.66,512.86 525.54,510.97 526.43,508.76 527.31,506.19 528.20,503.23 529.08,499.88 529.97,496.10 530.85,491.88 531.74,487.24 532.62,482.17 533.50,476.71 534.39,470.88 535.27,464.75 536.16,458.37 537.04,451.82 537.93,445.20 538.81,438.61 539.70,432.15 540.58,425.96 541.47,420.14 542.35,414.81 543.23,410.10 544.12,406.09 545.00,402.88 545.89,400.54 546.77,399.14 547.66,398.69 548.54,399.22 549.43,400.70 550.31,403.11 551.20,406.39 552.08,410.46 552.97,415.24 553.85,420.61 554.73,426.46 555.62,432.68 556.50,439.15 557.39,445.75 558.27,452.37 559.16,458.91 560.04,465.27 560.93,471.38 561.81,477.18 562.70,482.61 563.58,487.64 564.46,492.25 565.35,496.43 566.23,500.17 567.12,503.50 568.00,506.42 568.89,508.95 569.77,511.14 570.66,513.01 571.54,514.58 572.43,515.90 573.31,517.00 574.20,517.90 575.08,518.63 575.96,519.22 576.85,519.70 577.73,520.07 578.62,520.37 579.50,520.60 580.39,520.77 581.27,520.91 582.16,521.01 583.04,521.09 583.93,521.15 584.81,521.19 585.70,521.22 586.58,521.24 587.46,521.26 588.35,521.27 589.23,521.28 590.12,521.29 591.00,521.29 591.89,521.29 592.77,521.30 593.66,521.30 594.54,521.30 595.43,521.30 596.31,521.30 597.19,521.30 598.08,521.30 598.96,521.30 599.85,521.30 600.73,521.30 601.62,521.30 602.50,521.30 603.39,521.30 604.27,521.30 605.16,521.30 606.04,521.30 606.93,521.30 607.81,521.30 608.69,521.30 609.58,521.30 610.46,521.30 611.35,521.30 612.23,521.30 613.12,521.30 614.00,521.30 614.89,521.30 615.77,521.30 616.66,521.30 617.54,521.30 618.42,521.30 619.31,521.30 620.19,521.30 621.08,521.30 621.96,521.30 622.85,521.30 623.73,521.30 624.62,521.30 625.50,521.30 626.39,521.30 627.27,521.30 628.16,521.30 629.04,521.30 629.92,521.30 630.81,521.30 631.69,521.30 632.58,521.30 633.46,521.30 634.35,521.30 635.23,521.30 636.12,521.30 637.00,521.30 637.89,521.30 638.77,521.30 639.66,521.30 640.54,521.30 641.42,521.30 642.31,521.30 643.19,521.30 644.08,521.30 644.96,521.30 645.85,521.30 646.73,521.30 647.62,521.30 648.50,521.30 649.39,521.30 650.27,521.30 651.15,521.30 652.04,521.30 652.92,521.30 653.81,521.30 654.69,521.30 655.58,521.30 656.46,521.30 657.35,521.30 658.23,521.30 659.12,521.30 660.00,521.30 660.89,521.30 661.77,521.30 662.65,521.30 663.54,521.30 664.42,521.30 665.31,521.30 666.19,521.30 667.08,521.30 667.96,521.30 668.85,521.30 669.73,521.30 670.62,521.30 671.50,521.30 672.38,521.30 673.27,521.30 674.15,521.30 675.04,521.30 675.92,521.30 676.81,521.30 677.69,521.30 678.58,521.30 679.46,521.30 680.35,521.30 681.23,521.30 682.12,521.30 683.00,521.30" fill="none" stroke="#0000ff" stroke-width="2.4" stroke-linejoin="round" clip-path="url(#hclip350)"/>
<polyline points="415.00,521.30 416.34,521.30 417.68,521.30 419.02,521.30 420.36,521.30 421.70,521.30 423.04,521.30 424.38,521.30 425.72,521.30 427.06,521.30 428.40,521.30 429.74,521.30 431.08,521.30 432.42,521.30 433.76,521.30 435.10,521.30 436.44,521.30 437.78,521.30 439.12,521.30 440.46,521.30 441.80,521.30 443.14,521.30 444.48,521.30 445.82,521.30 447.16,521.30 448.50,521.30 449.84,521.30 451.18,521.30 452.52,521.30 453.86,521.30 455.20,521.30 456.54,521.30 457.88,521.30 459.22,521.30 460.56,521.30 461.90,521.30 463.24,521.30 464.58,521.30 465.92,521.30 467.26,521.30 468.60,521.30 469.94,521.30 471.28,521.30 472.62,521.30 473.96,521.30 475.30,521.30 476.64,521.30 477.98,521.30 479.32,521.30 480.66,521.30 482.00,521.30 483.34,521.30 484.68,521.30 486.02,521.30 487.36,521.30 488.70,521.30 490.04,521.30 491.38,521.30 492.72,521.30 494.06,521.30 495.40,521.30 496.74,521.30 498.08,521.30 499.42,521.30 500.76,521.30 502.10,521.30 503.44,521.30 504.78,521.30 506.12,521.30 507.46,521.30 508.80,521.30 510.14,521.30 511.48,521.30 512.82,521.30 514.16,521.30 515.50,521.30 516.84,521.30 518.18,521.30 519.52,521.29 520.86,521.29 522.20,521.29 523.54,521.29 524.88,521.29 526.22,521.29 527.56,521.28 528.90,521.28 530.24,521.27 531.58,521.27 532.92,521.26 534.26,521.26 535.60,521.25 536.94,521.24 538.28,521.23 539.62,521.21 540.96,521.20 542.30,521.18 543.64,521.16 544.98,521.14 546.32,521.11 547.66,521.08 549.00,521.04 550.34,521.00 551.68,520.96 553.02,520.91 554.36,520.85 555.70,520.78 557.04,520.71 558.38,520.63 559.72,520.54 561.06,520.44 562.40,520.33 563.74,520.20 565.08,520.07 566.42,519.92 567.76,519.75 569.10,519.57 570.44,519.38 571.78,519.17 573.12,518.94 574.46,518.70 575.80,518.44 577.14,518.16 578.48,517.86 579.82,517.54 581.16,517.21 582.50,516.85 583.84,516.48 585.18,516.09 586.52,515.68 587.86,515.26 589.20,514.82 590.54,514.37 591.88,513.90 593.22,513.43 594.56,512.94 595.90,512.45 597.24,511.96 598.58,511.46 599.92,510.96 601.26,510.47 602.60,509.98 603.94,509.51 605.28,509.04 606.62,508.59 607.96,508.15 609.30,507.74 610.64,507.34 611.98,506.98 613.32,506.64 614.66,506.34 616.00,506.06 617.34,505.83 618.68,505.63 620.02,505.47 621.36,505.34 622.70,505.26 624.04,505.22 625.38,505.23 626.72,505.27 628.06,505.36 629.40,505.48 630.74,505.65 632.08,505.85 633.42,506.09 634.76,506.37 636.10,506.68 637.44,507.02 638.78,507.39 640.12,507.78 641.46,508.20 642.80,508.64 644.14,509.09 645.48,509.56 646.82,510.04 648.16,510.53 649.50,511.02 650.84,511.52 652.18,512.02 653.52,512.51 654.86,513.00 656.20,513.48 657.54,513.96 658.88,514.42 660.22,514.87 661.56,515.31 662.90,515.73 664.24,516.13 665.58,516.52 666.92,516.89 668.26,517.24 669.60,517.58 670.94,517.89 672.28,518.19 673.62,518.47 674.96,518.73 676.30,518.97 677.64,519.20 678.98,519.40 680.32,519.60 681.66,519.77 683.00,519.93" fill="none" stroke="#006400" stroke-width="2.4" stroke-linejoin="round" clip-path="url(#hclip350)"/>
<line x1="415.3" y1="521.3" x2="415.3" y2="320.29999999999995" stroke="#4d4d4d" stroke-width="1.2"/>
<line x1="407.1" y1="521.30" x2="415.3" y2="521.30" stroke="#555" stroke-width="1.1"/>
<text transform="translate(396.3,521.30) rotate(-90)" text-anchor="middle" font-size="14">0</text>
<line x1="407.1" y1="487.80" x2="415.3" y2="487.80" stroke="#555" stroke-width="1.1"/>
<text transform="translate(396.3,487.80) rotate(-90)" text-anchor="middle" font-size="14">2</text>
<line x1="407.1" y1="454.30" x2="415.3" y2="454.30" stroke="#555" stroke-width="1.1"/>
<text transform="translate(396.3,454.30) rotate(-90)" text-anchor="middle" font-size="14">4</text>
<line x1="407.1" y1="420.80" x2="415.3" y2="420.80" stroke="#555" stroke-width="1.1"/>
<text transform="translate(396.3,420.80) rotate(-90)" text-anchor="middle" font-size="14">6</text>
<line x1="407.1" y1="387.30" x2="415.3" y2="387.30" stroke="#555" stroke-width="1.1"/>
<text transform="translate(396.3,387.30) rotate(-90)" text-anchor="middle" font-size="14">8</text>
<line x1="407.1" y1="353.80" x2="415.3" y2="353.80" stroke="#555" stroke-width="1.1"/>
<text transform="translate(396.3,353.80) rotate(-90)" text-anchor="middle" font-size="14">10</text>
<line x1="407.1" y1="320.30" x2="415.3" y2="320.30" stroke="#555" stroke-width="1.1"/>
<text transform="translate(396.3,320.30) rotate(-90)" text-anchor="middle" font-size="14">12</text>
<line x1="434.40" y1="530.2" x2="654.96" y2="530.2" stroke="#4d4d4d" stroke-width="1.2"/>
<line x1="434.40" y1="530.2" x2="434.40" y2="538.4" stroke="#555" stroke-width="1.1"/>
<line x1="471.16" y1="530.2" x2="471.16" y2="538.4" stroke="#555" stroke-width="1.1"/>
<line x1="507.92" y1="530.2" x2="507.92" y2="538.4" stroke="#555" stroke-width="1.1"/>
<line x1="544.68" y1="530.2" x2="544.68" y2="538.4" stroke="#555" stroke-width="1.1"/>
<line x1="581.44" y1="530.2" x2="581.44" y2="538.4" stroke="#555" stroke-width="1.1"/>
<line x1="618.20" y1="530.2" x2="618.20" y2="538.4" stroke="#555" stroke-width="1.1"/>
<line x1="654.96" y1="530.2" x2="654.96" y2="538.4" stroke="#555" stroke-width="1.1"/>
<text x="434.40" y="560.4" text-anchor="middle" font-size="14">1000</text>
<text x="507.92" y="560.4" text-anchor="middle" font-size="14">1400</text>
<text x="581.44" y="560.4" text-anchor="middle" font-size="14">1800</text>
<text x="654.96" y="560.4" text-anchor="middle" font-size="14">2200</text>
<text x="479.3" y="594.3" font-size="14" textLength="139.3" lengthAdjust="spacingAndGlyphs">VLP Area, All Samples</text>
<text transform="translate(362.2,454.3) rotate(-90)" font-size="14" textLength="65.6" lengthAdjust="spacingAndGlyphs">Frequency</text>
<rect x="75.5" y="14.6" width="40.2" height="36" fill="#fff" stroke="#2a5699" stroke-width="1.3"/>
<text transform="translate(95.6,40.8) scale(0.94,1)" text-anchor="middle" font-size="22" fill="#000">A</text>
<rect x="427.3" y="14.5" width="40.2" height="36" fill="#fff" stroke="#2a5699" stroke-width="1.3"/>
<text transform="translate(447.40000000000003,40.7) scale(0.96,1)" text-anchor="middle" font-size="22" fill="#000">B</text>
<rect x="75.3" y="316.1" width="40.2" height="36" fill="#fff" stroke="#2a5699" stroke-width="1.3"/>
<text transform="translate(95.4,342.3) scale(0.955,1)" text-anchor="middle" font-size="22" fill="#000">C</text>
<rect x="427.2" y="316.2" width="40.2" height="36" fill="#fff" stroke="#2a5699" stroke-width="1.3"/>
<text transform="translate(447.3,342.4) scale(0.985,1)" text-anchor="middle" font-size="22" fill="#000">D</text>
</svg>
</body></html>
